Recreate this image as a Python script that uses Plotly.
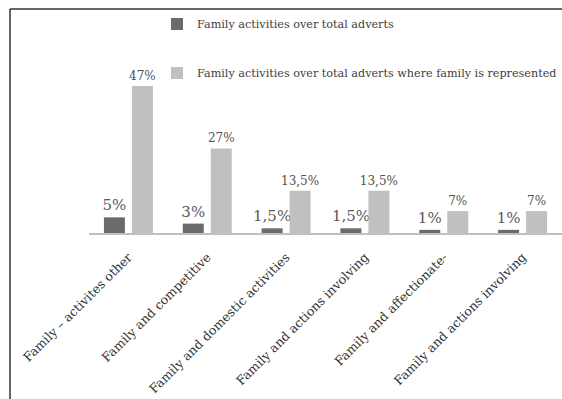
import plotly.graph_objects as go

# Category labels (two categories share the same wording, so x uses positions)
categories = [
    "Family – activites other",
    "Family and competitive",
    "Family and domestic activities",
    "Family and actions involving",
    "Family and affectionate-",
    "Family and actions involving",
]
series_names = [
    "Family activities over total adverts",
    "Family activities over total adverts where family is represented",
]
over_total = [5, 3, 1.5, 1.5, 1, 1]
over_represented = [47, 27, 13.5, 13.5, 7, 7]

x_pos = list(range(len(categories)))


def pct(v):
    return f"{v:g}".replace(".", ",") + "%"


W, H = 562, 399
ML, MR, MT, MB = 89, 0, 70, 166
FONT = "DejaVu Serif"

fig = go.Figure()
fig.add_trace(go.Bar(
    x=x_pos, y=over_total, name=series_names[0],
    marker=dict(color="#6b6b6b", line=dict(width=0)),
    text=[pct(v) for v in over_total], textposition="outside",
    textfont=dict(family=FONT, size=15, color="#595959"),
    constraintext="none", cliponaxis=False, legend="legend",
))
fig.add_trace(go.Bar(
    x=x_pos, y=over_represented, name=series_names[1],
    marker=dict(color="#c0c0c0", line=dict(width=0)),
    text=[pct(v) for v in over_represented], textposition="outside",
    textfont=dict(family=FONT, size=12, color="#505050"),
    constraintext="none", cliponaxis=False, legend="legend2",
))

# chart-area frame (top and left edges)
plot_w = W - ML - MR
plot_h = H - MT - MB
fx = (10 - ML) / plot_w
fy_top = (H - MB - 9) / plot_h
fy_bot = (H - MB - H) / plot_h
frame = dict(color="#333333", width=1.5)
fig.add_shape(type="line", xref="paper", yref="paper",
              x0=fx, x1=1.0, y0=fy_top, y1=fy_top, line=frame)
fig.add_shape(type="line", xref="paper", yref="paper",
              x0=fx, x1=fx, y0=fy_top, y1=fy_bot, line=frame)

legend_style = dict(
    font=dict(family=FONT, size=11.2, color="#404040"),
    bgcolor="rgba(0,0,0,0)", xanchor="left", yanchor="middle",
    itemwidth=30,
)

fig.update_layout(
    width=W, height=H,
    margin=dict(l=ML, r=MR, t=MT, b=MB, autoexpand=False),
    paper_bgcolor="white", plot_bgcolor="white",
    barmode="group", bargap=0.29, bargroupgap=0.25,
    showlegend=True,
    legend=dict(x=(157 - ML) / plot_w, y=(H - MB - 24) / plot_h, **legend_style),
    legend2=dict(x=(157 - ML) / plot_w, y=(H - MB - 73) / plot_h, **legend_style),
    xaxis=dict(
        tickmode="array", tickvals=x_pos, ticktext=categories,
        tickangle=-45, range=[-0.5, len(categories) - 0.5],
        showline=True, linecolor="#bfbfbf", linewidth=2,
        ticks="", showgrid=False, zeroline=False, automargin=False,
        ticklabelstandoff=10,
        tickfont=dict(family=FONT, size=12.5, color="#333333"),
    ),
    yaxis=dict(range=[0, plot_h / 3.13], visible=False, showgrid=False,
               automargin=False),
)

fig.write_html("out.html")
